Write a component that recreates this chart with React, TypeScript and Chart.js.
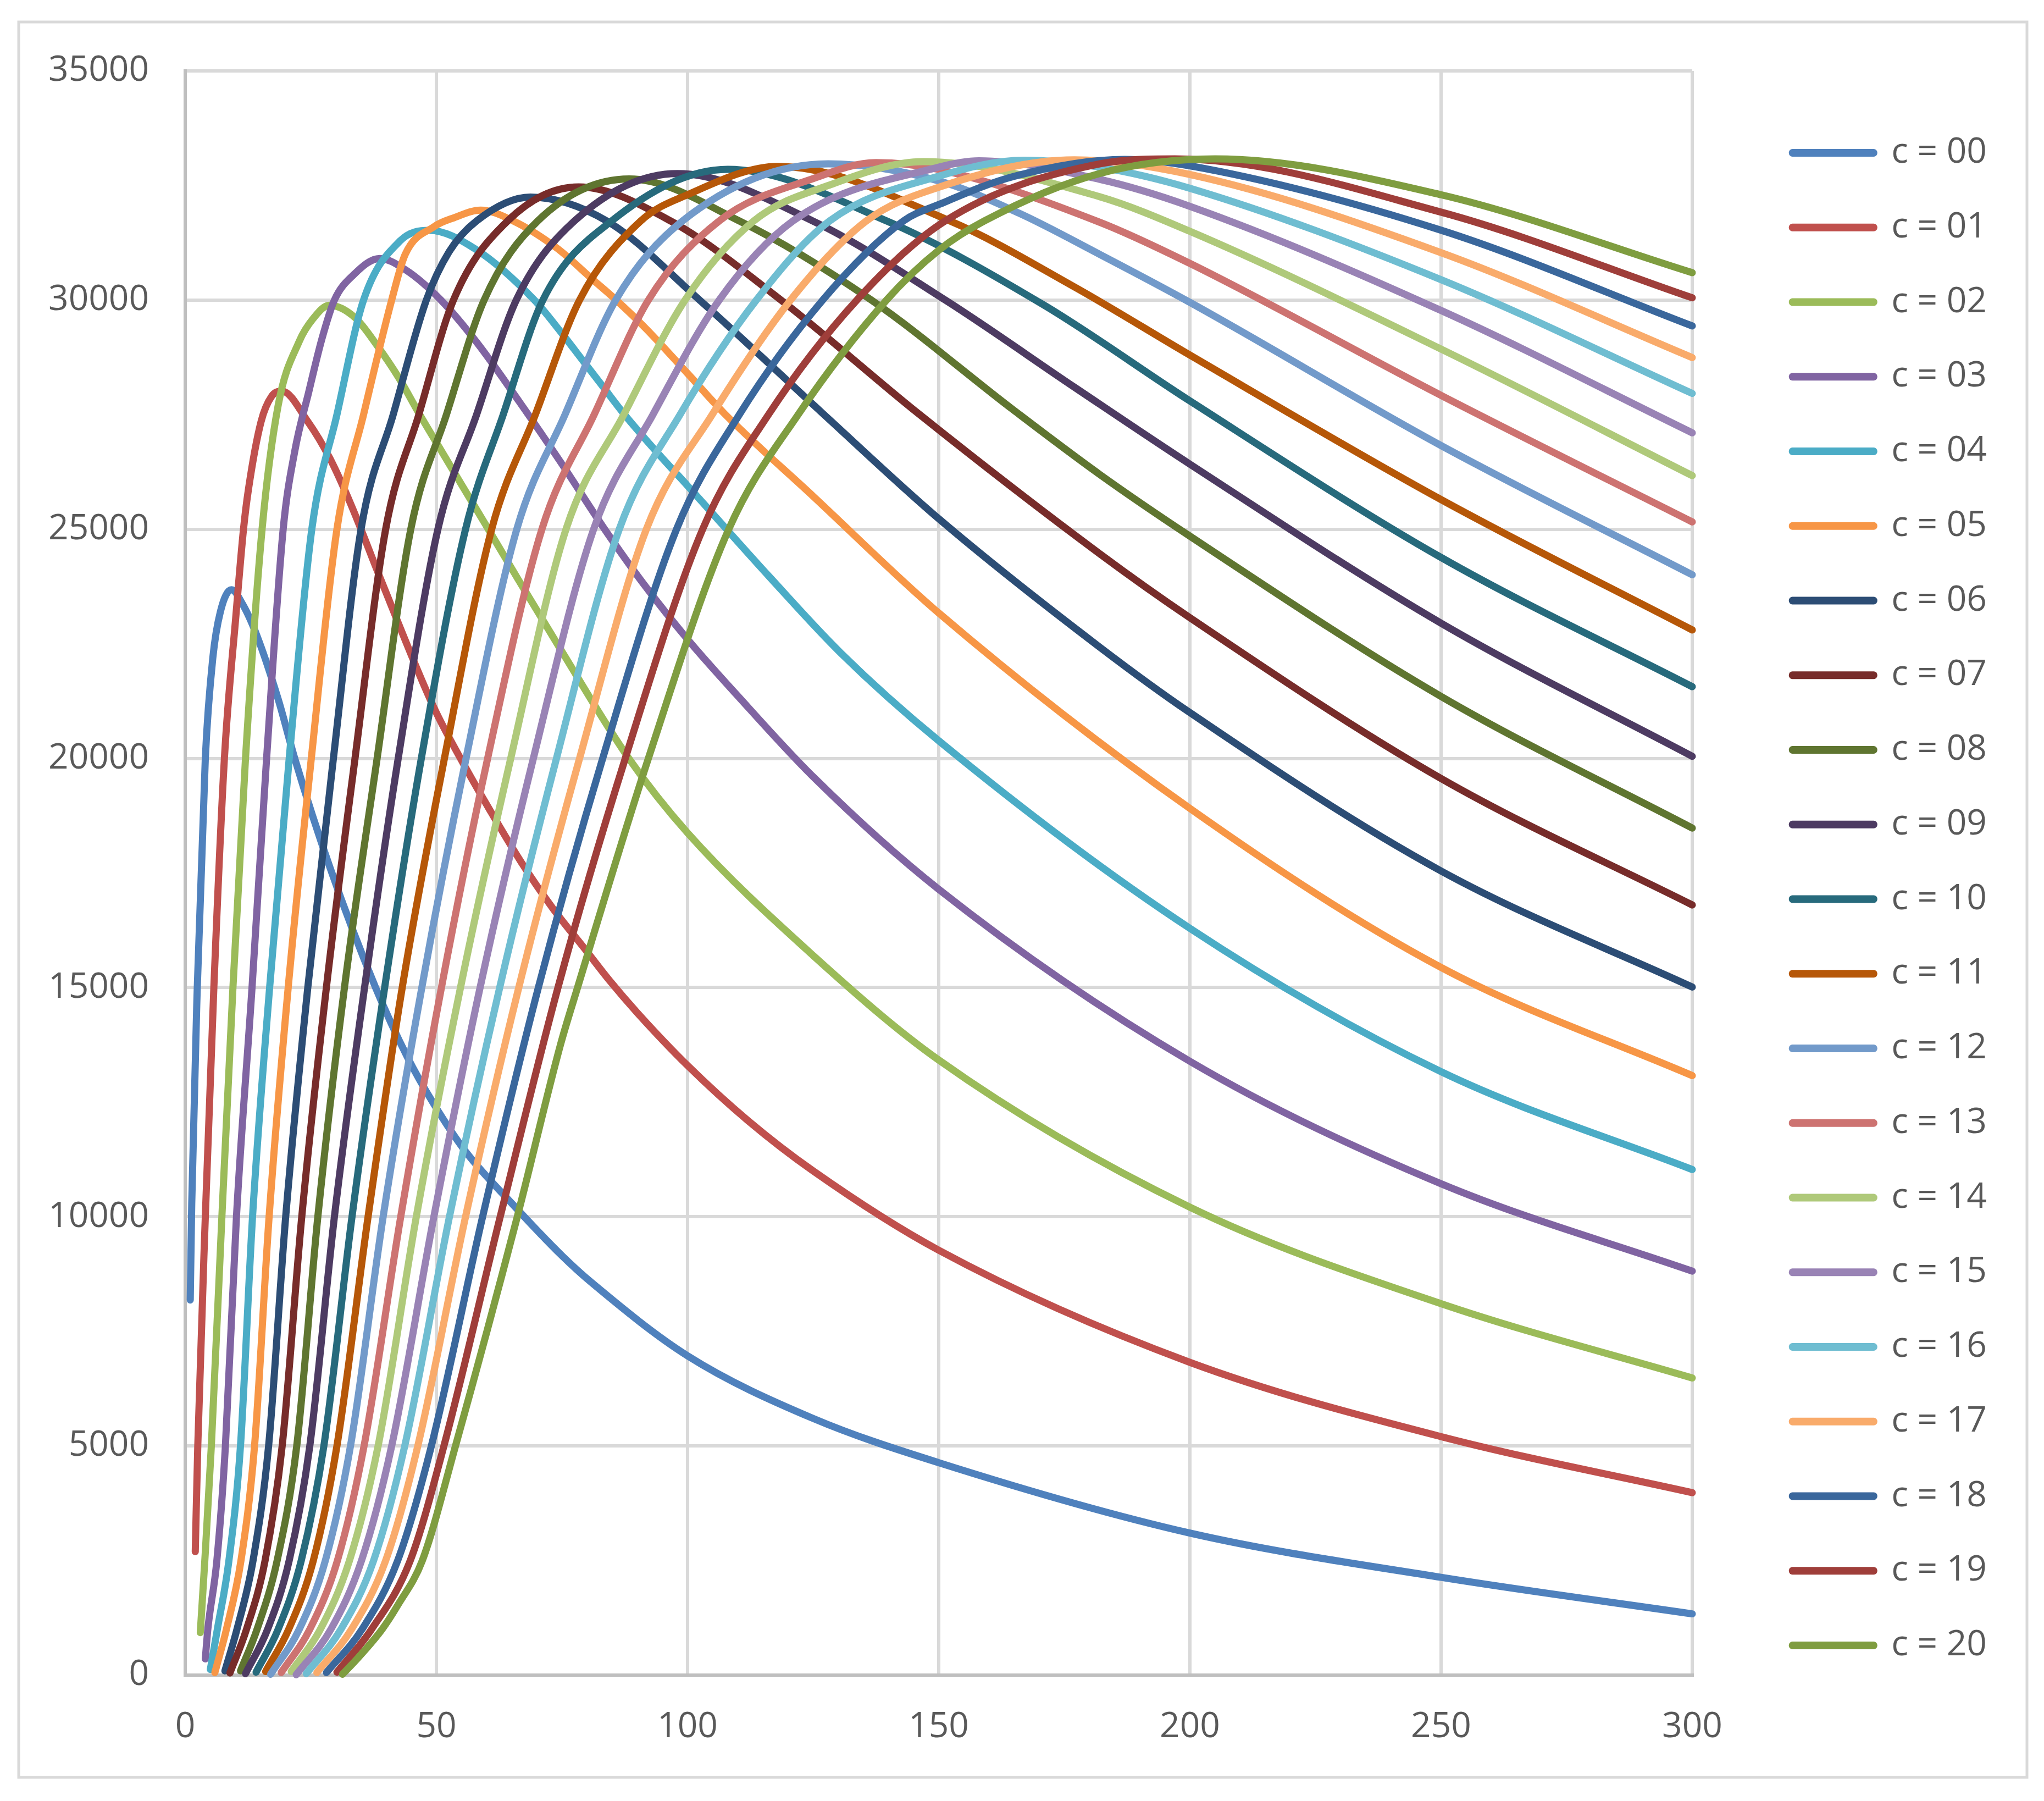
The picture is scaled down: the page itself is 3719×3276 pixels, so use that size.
import React, { useEffect, useRef } from "react";
import { Chart, registerables } from "chart.js";

Chart.register(...registerables);

const FONT_FAMILY = "'Open Sans', 'Noto Sans', 'Liberation Sans', sans-serif";
const TEXT_COLOR = "#595959";

const xTickValues = [0, 50, 100, 150, 200, 250, 300];
const yTickValues = [0, 5000, 10000, 15000, 20000, 25000, 30000, 35000];

const seriesLabels = [
  "c = 00", "c = 01", "c = 02", "c = 03", "c = 04", "c = 05", "c = 06",
  "c = 07", "c = 08", "c = 09", "c = 10", "c = 11", "c = 12", "c = 13",
  "c = 14", "c = 15", "c = 16", "c = 17", "c = 18", "c = 19", "c = 20",
];

const seriesColors = [
  "#4F81BD", "#C0504D", "#9BBB59", "#8064A2", "#4BACC6", "#F79646", "#2C4D75",
  "#772C2A", "#5F7530", "#4D3B62", "#276A7C", "#B65708", "#729ACA", "#CD7371",
  "#AFC97A", "#9983B5", "#6FBDD1", "#F9AB6B", "#3A679C", "#9F3E3A", "#7F9D40",
];

// [x, y] points
const c00 = [[1,8184],[1.3,10300],[2.4,15000],[4,20000],[5.5,22200],[7,23200],[9.2,23680],[11.5,23350],[14.3,22670],[18.5,21294],[21.8,20000],[28.8,17624],[37.9,15000],[44.2,13490],[49.5,12457],[55.8,11424],[65.2,10270],[75,9150],[80.9,8563],[100,6966],[125,5600],[150,4635],[200,3099],[250,2133],[300,1336]];
const c01 = [[2,2693],[2.5,5000],[4,10000],[5.7,15000],[7.8,20000],[10.1,23129],[11.6,25000],[12.6,25881],[15.1,27350],[17.2,27900],[19.3,28009],[24.4,27350],[28.8,26546],[33,25537],[38.8,23940],[49.5,21110],[55.3,19900],[60.6,18881],[66.9,17734],[73.2,16725],[79.5,15850],[84.5,15150],[90,14450],[100,13300],[112,12100],[125,11000],[150,9270],[200,6824],[250,5203],[300,3980]];
const c02 = [[3,927],[3.9,2500],[5.2,5000],[7.3,10000],[9.5,15000],[12,20000],[15.3,25000],[18.5,27700],[22.7,29100],[25.5,29600],[28.7,29888],[33.8,29619],[38.4,28977],[42.6,28289],[46.4,27555],[50.5,26800],[54.7,26030],[59.8,25100],[66.2,23920],[74.6,22400],[88.3,20000],[100,18376],[125,15700],[150,13420],[200,10208],[250,8104],[300,6483]];
const c03 = [[4,353],[4.5,1000],[6.3,2500],[8,5000],[10.2,10000],[13.3,15000],[16.2,20000],[19.5,25000],[21.8,26700],[24.6,28000],[27.2,29150],[29.7,30000],[33.5,30550],[38.7,30908],[44,30650],[50.9,30000],[58.1,29069],[66.5,27784],[74.8,26454],[83.5,25000],[91.3,23800],[100,22600],[109.7,21400],[125,19600],[150,17145],[200,13392],[250,10720],[300,8814]];
const c04 = [[5,124],[6.4,1000],[8.7,2500],[11,5000],[13.4,10000],[16.8,15000],[20.7,20000],[25.2,25000],[30.2,27500],[35.5,30000],[42.8,31294],[48.6,31523],[57.8,31110],[69.5,30000],[74.8,29298],[79,28702],[83.2,28106],[87.4,27509],[94.4,26620],[100,25950],[116.4,23950],[130.5,22300],[150,20386],[200,16293],[250,13165],[300,11031]];
const c05 = [[5.9,55],[8.2,1000],[11.1,2500],[13.8,5000],[16.7,10000],[20.5,15000],[25.1,20000],[30.2,25000],[35.5,27500],[41.1,30000],[43.8,31000],[49.5,31600],[53.6,31800],[58.8,31963],[65.3,31728],[74,31133],[81.1,30450],[85.8,30000],[91.6,29390],[100,28400],[107.3,27528],[125,25720],[150,23173],[200,18909],[250,15440],[300,13079]];
const c06 = [[7.9,92],[10.3,1000],[13.5,2500],[16.6,5000],[20,10000],[24.4,15000],[29.5,20000],[35,25000],[41.4,27500],[48,30000],[52.5,31050],[58,31728],[68.7,32248],[83.9,31728],[102.4,30000],[126.9,27528],[150,25230],[182,22432],[200,21000],[250,17544],[300,15012]];
const c07 = [[8.9,46],[12.2,1000],[15.9,2500],[19.3,5000],[23.2,10000],[28.1,15000],[33.8,20000],[39.9,25000],[46.5,27500],[53.4,30000],[64.2,31728],[78.3,32468],[96.6,31728],[118.6,30000],[145.9,27528],[182,24469],[200,23070],[250,19562],[300,16803]];
const c08 = [[11,92],[14.3,1000],[18.3,2500],[22.2,5000],[26.4,10000],[31.7,15000],[38.2,20000],[44.9,25000],[52,27500],[59.5,30000],[70.2,31728],[88.4,32642],[110.3,31728],[136.6,30000],[164.9,27600],[182,26200],[200,24850],[250,21353],[300,18481]];
const c09 = [[12,32],[16.4,1000],[20.7,2500],[24.8,5000],[29.7,10000],[35.7,15000],[42.4,20000],[50.3,25000],[58,27500],[65.9,30000],[77.5,31728],[98,32761],[124.9,31728],[151.3,30000],[177,28100],[200,26420],[250,22950],[300,20045]];
const c10 = [[14.1,64],[18.5,1000],[23.1,2500],[27.6,5000],[33.2,10000],[39.7,15000],[47,20000],[55.8,25000],[63.3,27500],[71.2,30000],[84.9,31728],[108,32853],[139.6,31728],[170.8,29900],[200,27800],[250,24385],[300,21565]];
const c11 = [[16,78],[20.6,1000],[25.5,2500],[30.2,5000],[36.4,10000],[43.2,15000],[51.6,20000],[61,25000],[69.7,27500],[78.5,30000],[90.7,31728],[100,32300],[118,32917],[152.2,31728],[177,30288],[200,28800],[250,25648],[300,22803]];
const c12 = [[17,18],[22.7,1000],[27.9,2500],[32.9,5000],[39.4,10000],[47.1,15000],[55.9,20000],[66,25000],[75.6,27500],[85.7,30000],[99,31728],[128,32972],[150,32600],[165.9,31900],[182,31000],[200,29950],[250,26826],[300,24006]];
const c13 = [[19.1,55],[24.8,1000],[30.3,2500],[35.6,5000],[42.9,10000],[51,15000],[60.2,20000],[71,25000],[81.4,27500],[92.2,30000],[106.3,31728],[125,32650],[137.5,33000],[150,32850],[182,31700],[200,30800],[250,27921],[300,25160]];
const c14 = [[21.1,78],[26.9,1000],[32.7,2500],[38.4,5000],[46,10000],[54.8,15000],[64.8,20000],[75.8,25000],[87.3,27500],[99.5,30000],[113.2,31728],[128,32500],[147,33020],[182,32256],[200,31500],[250,28931],[300,26170]];
const c15 = [[22.1,9],[29,1000],[35.1,2500],[41.1,5000],[49.5,10000],[58.7,15000],[69.3,20000],[81.3,25000],[93.1,27500],[106.3,30000],[121,31728],[150,32900],[158,33040],[182,32635],[200,32046],[250,29773],[300,27104]];
const c16 = [[24.1,32],[31,1000],[37.5,2500],[43.7,5000],[52.6,10000],[62.6,15000],[73.9,20000],[86.4,25000],[98.5,27500],[113.7,30000],[128.3,31728],[150,32703],[167,33050],[182,32900],[200,32440],[250,30446],[300,27963]];
const c17 = [[26.2,55],[33.1,1000],[39.9,2500],[46.3,5000],[55.8,10000],[66.4,15000],[78.5,20000],[91.8,25000],[104.9,27500],[120.5,30000],[135.6,31728],[150,32462],[177,33060],[200,32740],[250,31035],[300,28746]];
const c18 = [[28.1,55],[35.2,1000],[42.3,2500],[49,5000],[59.2,10000],[70.3,15000],[83.1,20000],[97.8,25000],[110.3,27500],[126.9,30000],[143,31728],[150,32084],[165,32700],[187,33070],[200,32929],[250,31524],[300,29436]];
const c19 = [[30.2,64],[37.1,1000],[44.8,2500],[51.5,5000],[62.7,10000],[74.2,15000],[87.6,20000],[103,25000],[116.1,27500],[133.7,30000],[151.3,31728],[182,32971],[197,33080],[250,31919],[300,30050]];
const c20 = [[31.3,18],[34.4,376],[39.2,1000],[42.3,1523],[47.2,2500],[53.8,5000],[66.1,10000],[74.7,13753],[78.1,15000],[92.2,20000],[108.2,25000],[122,27500],[139.6,30000],[150,31087],[159.1,31728],[182,32761],[205,33080],[250,32298],[300,30598]];

const seriesPoints = [c00, c01, c02, c03, c04, c05, c06, c07, c08, c09, c10, c11, c12, c13, c14, c15, c16, c17, c18, c19, c20];

const CANVAS_W = 3719;
const CANVAS_H = 3276;

const FONT_SIZE = 64;
const LEGEND_BOX_W = 148;
const LEGEND_PAD = 71.75;
const LINE_W = 13;

export default function App() {
  const canvasRef = useRef<HTMLCanvasElement | null>(null);

  useEffect(() => {
    const canvas = canvasRef.current;
    if (!canvas) return;

    // measure legend text to place the legend column
    const mctx = document.createElement("canvas").getContext("2d") as CanvasRenderingContext2D;
    mctx.font = `normal ${FONT_SIZE}px ${FONT_FAMILY}`;
    const maxTextW = Math.max(...seriesLabels.map((t) => mctx.measureText(t).width));
    const legendW = LEGEND_PAD + LEGEND_BOX_W + FONT_SIZE / 2 + maxTextW + 10;
    const legendLeft = 3189.5;
    const padRight = Math.max(0, CANVAS_W - legendLeft - legendW);

    const datasets = seriesPoints.map((pts, i) => ({
      label: seriesLabels[i],
      data: pts.map(([x, y]) => ({ x, y })),
      borderColor: seriesColors[i],
      backgroundColor: seriesColors[i],
      borderWidth: LINE_W,
      pointRadius: 0,
      pointHoverRadius: 0,
      pointHitRadius: 0,
      fill: false,
      cubicInterpolationMode: "monotone",
      borderCapStyle: "round",
      borderJoinStyle: "round",
      clip: 14,
      order: seriesPoints.length - i,
      xAxisID: "x",
      yAxisID: "y",
    }));

    const framePlugin = {
      id: "frame",
      beforeDraw(chart: any) {
        const ctx = chart.ctx;
        ctx.save();
        ctx.fillStyle = "#ffffff";
        ctx.fillRect(0, 0, chart.width, chart.height);
        ctx.restore();
      },
      afterDraw(chart: any) {
        const ctx = chart.ctx;
        ctx.save();
        ctx.strokeStyle = "#d9d9d9";
        ctx.lineWidth = 5;
        ctx.strokeRect(34, 40, 3654, 3193);
        ctx.restore();
      },
    };

    const tickFont = { family: FONT_FAMILY, size: FONT_SIZE };

    const chart = new Chart(canvas, {
      type: "line",
      data: { datasets: datasets as any },
      plugins: [framePlugin],
      options: {
        responsive: false,
        maintainAspectRatio: false,
        animation: false,
        devicePixelRatio: 1,
        events: [],
        layout: { padding: { left: 0, right: padRight, top: 129, bottom: 69 } },
        scales: {
          x: {
            type: "linear",
            position: "bottom",
            min: 0,
            max: 300,
            afterBuildTicks: (scale: any) => {
              scale.ticks = xTickValues.map((v) => ({ value: v }));
            },
            afterFit: (scale: any) => {
              scale.height = 160;
            },
            ticks: {
              font: tickFont,
              color: TEXT_COLOR,
              padding: 56,
              maxRotation: 0,
              autoSkip: false,
              callback: (v: any) => String(v),
            },
            grid: { color: "#d9d9d9", lineWidth: 6, drawTicks: false },
            border: { color: "#bfbfbf", width: 6 },
          },
          y: {
            type: "linear",
            position: "left",
            min: 0,
            max: 35000,
            afterBuildTicks: (scale: any) => {
              scale.ticks = yTickValues.map((v) => ({ value: v }));
            },
            afterFit: (scale: any) => {
              scale.width = 337;
            },
            ticks: {
              font: tickFont,
              color: TEXT_COLOR,
              padding: 66,
              autoSkip: false,
              callback: (v: any) => String(v),
            },
            grid: { color: "#d9d9d9", lineWidth: 6, drawTicks: false },
            border: { color: "#bfbfbf", width: 6 },
          },
          gap: {
            type: "linear",
            position: "right",
            min: 0,
            max: 1,
            display: true,
            afterFit: (scale: any) => {
              scale.width = 110.5;
            },
            grid: { display: false, drawTicks: false },
            ticks: { display: false },
            border: { display: false },
          },
        } as any,
        plugins: {
          legend: {
            display: true,
            position: "right",
            align: "start",
            title: {
              display: true,
              text: " ",
              font: { size: 10 },
              padding: { top: 0, bottom: 33.25 },
            },
            labels: {
              boxWidth: LEGEND_BOX_W,
              boxHeight: 1,
              padding: LEGEND_PAD,
              font: { family: FONT_FAMILY, size: FONT_SIZE },
              color: TEXT_COLOR,
              generateLabels: (ch: any) =>
                ch.data.datasets.map((ds: any, i: number) => ({
                  text: ds.label,
                  fillStyle: ds.borderColor,
                  strokeStyle: ds.borderColor,
                  lineWidth: LINE_W,
                  lineCap: "round",
                  lineJoin: "round",
                  hidden: false,
                  datasetIndex: i,
                  fontColor: TEXT_COLOR,
                })),
            },
          },
          tooltip: { enabled: false },
          title: { display: false },
        },
      } as any,
    });

    return () => {
      chart.destroy();
    };
  }, []);

  return (
    <div
      style={{
        position: "absolute",
        left: 0,
        top: 0,
        width: CANVAS_W,
        height: CANVAS_H,
        background: "#ffffff",
      }}
    >
      <canvas
        ref={canvasRef}
        width={CANVAS_W}
        height={CANVAS_H}
        style={{ display: "block", width: CANVAS_W, height: CANVAS_H }}
      />
    </div>
  );
}
